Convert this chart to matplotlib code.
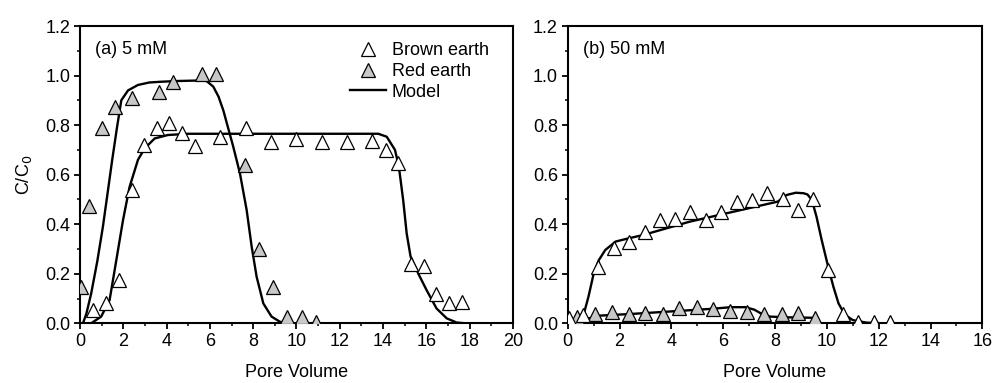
import numpy as np
import matplotlib
matplotlib.use('Agg')
import matplotlib.pyplot as plt
from matplotlib.ticker import MultipleLocator

plt.rcParams['font.family'] = ['Liberation Sans', 'DejaVu Sans']
fs = 13

# (a) 5 mM -- measured points
a_brown_x = [0.6, 1.2, 1.8, 2.39, 2.96, 3.54, 4.13, 4.70, 5.31, 6.47, 7.65, 8.82, 10.0,
             11.16, 12.32, 13.5, 14.12, 14.7, 15.29, 15.89, 16.44, 17.04, 17.63]
a_brown_y = [0.055, 0.08, 0.175, 0.54, 0.72, 0.79, 0.81, 0.77, 0.716, 0.753, 0.79, 0.73, 0.745,
             0.73, 0.73, 0.735, 0.70, 0.645, 0.238, 0.23, 0.12, 0.08, 0.087]
a_red_x = [0.05, 0.43, 1.03, 1.62, 2.39, 3.66, 4.28, 5.62, 6.28, 7.62, 8.27, 8.93, 9.55, 10.24, 10.9]
a_red_y = [0.148, 0.475, 0.79, 0.875, 0.91, 0.935, 0.975, 1.005, 1.008, 0.64, 0.30, 0.148, 0.027, 0.024, 0.007]

# (a) model curves
a_mod_red_x = [0.14, 0.3, 0.52, 0.8, 1.06, 1.3, 1.49, 1.71, 1.91, 2.22, 2.68, 3.2, 3.74, 4.5, 5.5,
               5.85, 6.16, 6.4, 6.62, 7.08, 7.39, 7.7, 7.93, 8.16, 8.47, 8.85, 9.24, 9.6]
a_mod_red_y = [0, 0.04, 0.121, 0.25, 0.39, 0.54, 0.66, 0.79, 0.90, 0.94, 0.962, 0.972, 0.975, 0.978, 0.98,
               0.978, 0.955, 0.915, 0.86, 0.713, 0.605, 0.457, 0.31, 0.188, 0.08, 0.027, 0.006, 0]
a_mod_brown_x = [0.52, 0.98, 1.37, 1.68, 1.99, 2.29, 2.68, 2.99, 3.45, 4.06, 5.0, 13.78, 14.17, 14.55,
                 14.73, 14.93, 15.09, 15.27, 15.63, 16.01, 16.47, 16.94, 17.4, 17.8]
a_mod_brown_y = [0, 0.027, 0.094, 0.255, 0.417, 0.55, 0.66, 0.706, 0.746, 0.76, 0.765, 0.765, 0.753, 0.70,
                 0.632, 0.497, 0.363, 0.27, 0.20, 0.134, 0.06, 0.02, 0.003, 0]

# (b) 50 mM -- measured points
b_brown_x = [0.05, 0.6, 1.18, 1.80, 2.38, 2.98, 3.56, 4.14, 4.72, 5.33, 5.91, 6.52, 7.10, 7.68,
             8.29, 8.88, 9.48, 10.06, 10.64, 11.22, 11.83, 12.42]
b_brown_y = [0.022, 0.033, 0.228, 0.305, 0.327, 0.367, 0.417, 0.42, 0.45, 0.417, 0.451, 0.491, 0.497, 0.525,
             0.50, 0.457, 0.50, 0.215, 0.036, 0.007, 0.007, 0.007]
b_red_x = [0.37, 1.05, 1.70, 2.37, 2.98, 3.67, 4.31, 4.98, 5.62, 6.27, 6.91, 7.59, 8.26, 8.90, 9.55]
b_red_y = [0.027, 0.036, 0.047, 0.036, 0.04, 0.038, 0.06, 0.064, 0.058, 0.051, 0.047, 0.038, 0.036, 0.04, 0.02]

# (b) model curves
b_mod_brown_x = [0, 0.4, 0.6, 0.8, 1.0, 1.2, 1.45, 1.85, 2.35, 2.9, 4.7, 8.1, 8.45, 8.8, 9.1, 9.25,
                 9.42, 9.6, 9.8, 10.05, 10.25, 10.45, 10.7, 11.0, 11.5, 12.0]
b_mod_brown_y = [0, 0.005, 0.03, 0.107, 0.2, 0.255, 0.296, 0.33, 0.343, 0.356, 0.41, 0.491, 0.518, 0.527,
                 0.525, 0.52, 0.498, 0.43, 0.336, 0.228, 0.148, 0.08, 0.034, 0.013, 0.003, 0]
b_mod_red_x = [0, 1.25, 2.5, 4.0, 5.5, 6.3, 6.85, 7.2, 7.45, 7.8, 8.5, 9.6]
b_mod_red_y = [0.0, 0.031, 0.038, 0.048, 0.058, 0.065, 0.065, 0.055, 0.04, 0.027, 0.024, 0.022]

grey = '#c8c8c8'
mk = dict(marker='^', ms=10.5, mec='black', mew=0.9, ls='none')

fig = plt.figure(figsize=(9.92, 3.83), dpi=100)
ax1 = fig.add_axes([0.0806, 0.1559, 0.4365, 0.7762])
ax2 = fig.add_axes([0.5723, 0.1559, 0.418, 0.7762])

ax1.plot(a_mod_red_x, a_mod_red_y, 'k-', lw=1.7, zorder=2)
ax1.plot(a_mod_brown_x, a_mod_brown_y, 'k-', lw=1.7, zorder=2)
ax1.plot(a_brown_x, a_brown_y, mfc='white', label='Brown earth', zorder=3, **mk)
ax1.plot(a_red_x, a_red_y, mfc=grey, label='Red earth', zorder=3, **mk)
ax1.plot([], [], 'k-', lw=1.7, label='Model')

ax2.plot(b_mod_red_x, b_mod_red_y, 'k-', lw=1.7, zorder=2)
ax2.plot(b_mod_brown_x, b_mod_brown_y, 'k-', lw=1.7, zorder=2)
ax2.plot(b_red_x, b_red_y, mfc=grey, zorder=3, **mk)
ax2.plot(b_brown_x, b_brown_y, mfc='white', zorder=3, **mk)

for ax, xmax in [(ax1, 20), (ax2, 16)]:
    ax.set_xlim(0, xmax)
    ax.set_ylim(0, 1.2)
    ax.xaxis.set_major_locator(MultipleLocator(2))
    ax.xaxis.set_minor_locator(MultipleLocator(1))
    ax.yaxis.set_major_locator(MultipleLocator(0.2))
    ax.yaxis.set_minor_locator(MultipleLocator(0.1))
    ax.yaxis.set_major_formatter(plt.FormatStrFormatter('%.1f'))
    ax.tick_params(which='major', direction='out', length=4, width=1.3, labelsize=fs, pad=3)
    ax.tick_params(which='minor', direction='out', length=2.5, width=1.1)
    for s in ax.spines.values():
        s.set_linewidth(1.5)
    ax.set_xlabel('Pore Volume', fontsize=fs, labelpad=10)

ax1.set_ylabel('C/C$_0$', fontsize=fs, labelpad=8)
ax1.text(0.035, 0.92, '(a) 5 mM', transform=ax1.transAxes, fontsize=fs, va='center')
ax2.text(0.036, 0.92, '(b) 50 mM', transform=ax2.transAxes, fontsize=fs, va='center')

ax1.legend(loc='upper left', bbox_to_anchor=(0.624, 0.945), frameon=False, fontsize=fs,
           handlelength=2.0, handletextpad=0.3, labelspacing=0.2, borderaxespad=0, borderpad=0)

fig.savefig('out.png', dpi=100)
